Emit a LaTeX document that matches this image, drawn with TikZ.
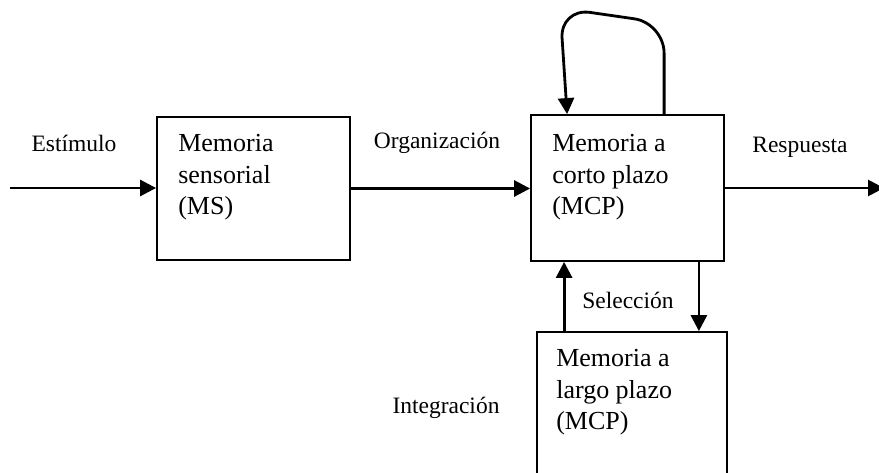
\documentclass[tikz,border=0pt]{standalone}
\usepackage{fontspec}
\setmainfont{Liberation Serif}
\usetikzlibrary{arrows.meta, positioning}

\begin{document}
\begin{tikzpicture}[
        x=1pt, y=1pt,
        membox/.style={
            rectangle,
            draw=black,
            line width=1.8pt,
            inner sep=0pt
        },
        boxtext/.style={
            anchor=north west,
            inner sep=0pt,
            align=left,
            font=\fontsize{26}{31.5}\selectfont
        },
        tag/.style={
            inner sep=0pt,
            font=\fontsize{23.5}{28}\selectfont
        },
        arrow/.style={-{Triangle[length=16pt,width=16pt]}, line width=2.8pt}
    ]

    \clip (0,0) rectangle (879,472);

    \node (ms) [membox, minimum width=193, minimum height=143] at (253.5,283.5) {};
    \node (mcp) [membox, minimum width=193, minimum height=146] at (627.5,284) {};
    \node (lp) [membox, minimum width=190, minimum height=170] at (632,55) {};

    \node (ms-text) [boxtext, below right=18pt and 22pt of ms.north west] {Memoria\\sensorial\\(MS)};
    \node (mcp-text) [boxtext, below right=20pt and 22pt of mcp.north west] {Memoria a\\corto plazo\\(MCP)};
    \node (lp-text) [boxtext, below right=18pt and 20pt of lp.north west] {Memoria a\\largo plazo\\(MCP)};

    \node (estimulo) [tag] at (74,329) {Estímulo};
    \node (organizacion) [tag] at (437,329) {Organización};
    \node (respuesta) [tag] at (800,325) {Respuesta};
    \node (seleccion) [tag] at (628,172) {Selección};
    \node (integracion) [tag] at (446,64) {Integración};

    \coordinate (in) at (10,284);
    \coordinate (out) at (884,284);
    \coordinate (up) at ([xshift=28pt]lp.north west);
    \coordinate (down) at ([xshift=-26pt]mcp.south east);

    \draw [arrow] (in) -- (in -| ms.west);
    \draw [arrow] (ms.east) -- (ms.east -| mcp.west);
    \draw [arrow] (mcp.east) -- (out);
    \draw [arrow] (up) -- (up |- mcp.south);
    \draw [arrow] (down) -- (down |- lp.north);
    \draw [arrow, rounded corners=30pt] ([xshift=134pt]mcp.north west) -- ++(0,91) -- ++(-104,15) -- ([xshift=37pt]mcp.north west);

\end{tikzpicture}
\end{document}
